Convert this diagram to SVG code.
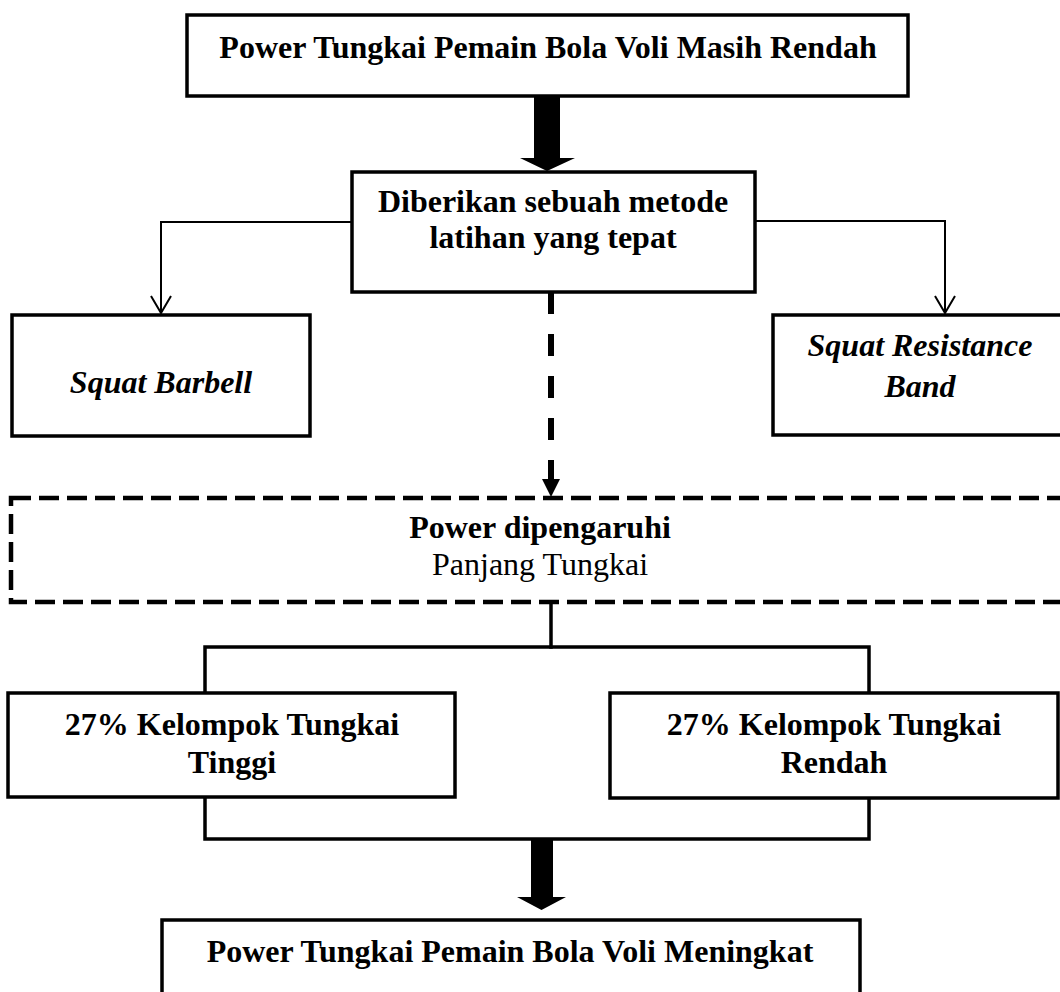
<svg xmlns="http://www.w3.org/2000/svg" width="1060" height="992" viewBox="0 0 1060 992">
  <style>
    .box { fill: #ffffff; stroke: #000000; stroke-width: 3.5; }
    .dbox { fill: none; stroke: #000000; stroke-width: 4.5; stroke-dasharray: 20 8; }
    .t { font-family: "Liberation Serif", "Times New Roman", serif; font-size: 32px; fill: #000000; text-anchor: middle; }
    .b { font-weight: bold; }
    .bi { font-weight: bold; font-style: italic; }
    .thin { fill: none; stroke: #000000; stroke-width: 2; }
    .bracket { fill: none; stroke: #000000; stroke-width: 3.5; stroke-linejoin: miter; stroke-linecap: square; }
    .dash { fill: none; stroke: #000000; stroke-width: 6; stroke-dasharray: 22 20; }
    .solid { fill: #000000; stroke: none; }
  </style>
  <defs>
    <marker id="open" viewBox="0 0 18 20" refX="17" refY="10" markerWidth="18" markerHeight="20" markerUnits="userSpaceOnUse" orient="auto" overflow="visible">
      <path d="M0,0 L17,10 L0,20" fill="none" stroke="#000000" stroke-width="2"/>
    </marker>
  </defs>

  <g id="connectors">
    <polygon class="solid" points="534,96 560,96 560,158 575,158 547,171 520,158 534,158"/>
    <path class="thin" d="M352,222 H161 V313" marker-end="url(#open)"/>
    <path class="thin" d="M755,221 H945 V313" marker-end="url(#open)"/>
    <path class="dash" d="M551,292 V481"/>
    <polygon class="solid" points="542,479 560,479 551,497"/>
    <path class="bracket" d="M551,602 V647"/>
    <path class="bracket" d="M205,693 V647 H869 V693"/>
    <path class="bracket" d="M205,797 V839 H869 V797"/>
    <polygon class="solid" points="531,839 553,839 553,897 566,897 541.5,910 517,897 531,897"/>
  </g>

  <g id="node-top">
    <rect class="box" x="187" y="15" width="721" height="81"/>
    <text class="t b" x="548" y="58">Power Tungkai Pemain Bola Voli Masih Rendah</text>
  </g>

  <g id="node-method">
    <rect class="box" x="352" y="172" width="403" height="120"/>
    <text class="t b" x="553" y="212">Diberikan sebuah metode</text>
    <text class="t b" x="553" y="248">latihan yang tepat</text>
  </g>

  <g id="node-barbell">
    <rect class="box" x="12" y="315" width="298" height="121"/>
    <text class="t bi" x="161" y="393">Squat Barbell</text>
  </g>

  <g id="node-band">
    <rect class="box" x="773" y="315" width="294" height="120"/>
    <text class="t bi" x="920" y="356">Squat Resistance</text>
    <text class="t bi" x="920" y="397">Band</text>
  </g>

  <g id="node-power">
    <rect class="dbox" x="11" y="498" width="1062" height="104"/>
    <text class="t b" x="540" y="538">Power dipengaruhi</text>
    <text class="t" x="540" y="575">Panjang Tungkai</text>
  </g>

  <g id="node-tinggi">
    <rect class="box" x="8" y="693" width="447" height="104"/>
    <text class="t b" x="232" y="735">27% Kelompok Tungkai</text>
    <text class="t b" x="232" y="773">Tinggi</text>
  </g>

  <g id="node-rendah">
    <rect class="box" x="610" y="693" width="448" height="105"/>
    <text class="t b" x="834" y="735">27% Kelompok Tungkai</text>
    <text class="t b" x="834" y="773">Rendah</text>
  </g>

  <g id="node-bottom">
    <rect class="box" x="162" y="920" width="698" height="100"/>
    <text class="t b" x="510" y="962">Power Tungkai Pemain Bola Voli Meningkat</text>
  </g>
</svg>
